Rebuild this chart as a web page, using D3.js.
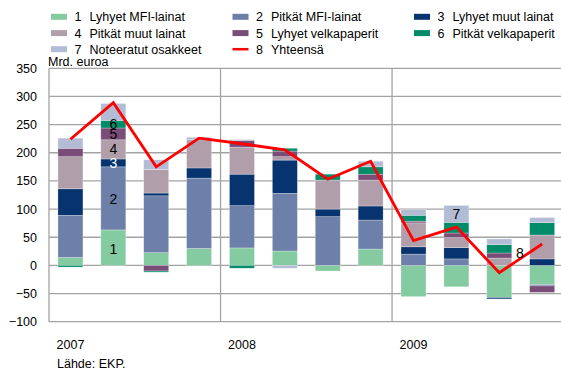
<!DOCTYPE html>
<html>
<head>
<meta charset="utf-8">
<script src="https://cdn.jsdelivr.net/npm/d3@7"></script>
<style>
  body { margin: 0; background: #fff; }
  svg { display: block; font-family: "Liberation Sans", Arial, sans-serif; }
</style>
</head>
<body>
<div id="chart"></div>
<script>
// quarters 2007Q1 .. 2009Q4
const quarters = ["2007Q1","2007Q2","2007Q3","2007Q4","2008Q1","2008Q2","2008Q3","2008Q4","2009Q1","2009Q2","2009Q3","2009Q4"];
const years = ["2007","2008","2009"];
const yTicks = [-100,-50,0,50,100,150,200,250,300,350];

const seriesNames = ["Lyhyet MFI-lainat","Pitkät MFI-lainat","Lyhyet muut lainat","Pitkät muut lainat","Lyhyet velkapaperit","Pitkät velkapaperit","Noteeratut osakkeet"];
const totalName = "Yhteensä";

const s1 = [14, 63, 22.5, 30, 31, 25.5, -10, 29, -55.5, -38, -57, -34];
const s2 = [75, 112, 101, 125, 75, 102.5, 86.5, 51.5, 20, 11.5, 0, -2.5];
const s3 = [47, 14, 5, 18, 56, 59, 13.5, 25, 13, 20, -2.5, 11.5];
const s4 = [57, 34, 42, 50, 48, 6, 51.5, 46, 42.5, 18, 13, 42.5];
const s5 = [15, 21, -10, 0, 12, 10, 0, 10.5, 3, 8, 9, -11.5];
const s6 = [-3, 13.5, -2, 0, -5, 5, 10.5, 13, 10.5, 19, 15, 22];
const s7 = [18, 30, 17, 4.5, 1.5, -5, 0, 10, 10, 30, 10, 9];
const total = [224, 289, 175, 226, 216, 205, 153, 185, 44, 68, -13, 38];

const colors = ["#84cba2", "#6d80a9", "#07346f", "#b09fab", "#7a4c78", "#008c69", "#b3bcd5"];
const lineColor = "#ff0000";

const width = 561, height = 371;
const plot = { left: 49, right: 563.6, top: 68.3, bottom: 321.7 };

const svg = d3.select("#chart").append("svg")
  .attr("width", width)
  .attr("height", height);

const x = d3.scaleBand()
  .domain(quarters)
  .range([plot.left, plot.right])
  .paddingInner(0.417)
  .paddingOuter(0.2085);

const y = d3.scaleLinear()
  .domain([-100, 350])
  .range([plot.bottom, plot.top]);

// grid
const grid = svg.append("g");
grid.selectAll("line.h")
  .data(yTicks)
  .enter().append("line")
  .attr("x1", plot.left).attr("x2", plot.right)
  .attr("y1", d => y(d)).attr("y2", d => y(d))
  .attr("stroke", "#a3a3a3").attr("stroke-width", 1.3);

const yearStarts = [0, 4, 8];
const yearX = i => i === 0 ? plot.left : x(quarters[i]) - x.step() * 0.2085;
grid.selectAll("line.v")
  .data(yearStarts)
  .enter().append("line")
  .attr("x1", yearX).attr("x2", yearX)
  .attr("y1", plot.top).attr("y2", plot.bottom)
  .attr("stroke", "#a3a3a3").attr("stroke-width", 1.3);

// y axis labels
const yAxis = svg.append("g")
  .attr("transform", `translate(${plot.left},0)`)
  .call(d3.axisLeft(y).tickValues(yTicks).tickSize(0).tickPadding(12));
yAxis.select(".domain").remove();
yAxis.selectAll("text")
  .attr("font-size", "12.5px")
  .attr("font-family", "Liberation Sans, Arial, sans-serif")
  .attr("fill", "#000");

svg.append("text")
  .attr("x", 48).attr("y", 65.5)
  .attr("font-size", "12.5px")
  .text("Mrd. euroa");

// year labels
svg.selectAll("text.year")
  .data(years)
  .enter().append("text")
  .attr("x", (d, i) => x(quarters[i * 4]) - 1.4)
  .attr("y", 348.5)
  .attr("font-size", "12.5px")
  .text(d => d);

svg.append("text")
  .attr("x", 57).attr("y", 368)
  .attr("font-size", "12.5px")
  .text("Lähde: EKP.");

// stacked bars
const all = [s1, s2, s3, s4, s5, s6, s7];
const keys = all.map((_, i) => "s" + (i + 1));
const rows = quarters.map((q, j) => {
  const r = { q };
  all.forEach((s, i) => { r[keys[i]] = s[j]; });
  return r;
});
const stacked = d3.stack()
  .keys(keys)
  .offset(d3.stackOffsetDiverging)(rows);

const layers = svg.append("g").selectAll("g")
  .data(stacked)
  .enter().append("g")
  .attr("fill", (d, i) => colors[i]);

layers.selectAll("rect")
  .data(d => d)
  .enter().append("rect")
  .attr("x", d => x(d.data.q))
  .attr("width", x.bandwidth())
  .attr("y", d => y(Math.max(d[0], d[1])))
  .attr("height", d => Math.abs(y(d[0]) - y(d[1])))
  .attr("stroke", "#ffffff")
  .attr("stroke-opacity", 0.45)
  .attr("stroke-width", 0.6);

// total line
const line = d3.line()
  .x((d, i) => x(quarters[i]) + x.bandwidth() / 2)
  .y(d => y(d));

svg.append("path")
  .datum(total)
  .attr("fill", "none")
  .attr("stroke", lineColor)
  .attr("stroke-width", 2.8)
  .attr("stroke-linejoin", "miter")
  .attr("d", line);

// in-chart number labels
const mid = (k, j) => {
  const seg = stacked[k][j];
  return y((seg[0] + seg[1]) / 2);
};
const inLabels = [
  { t: "1", k: 0, j: 1, c: "#000", dy: 6 },
  { t: "2", k: 1, j: 1, c: "#000", dy: 6 },
  { t: "3", k: 2, j: 1, c: "#fff", dy: 5 },
  { t: "4", k: 3, j: 1, c: "#000", dy: 5 },
  { t: "5", k: 4, j: 1, c: "#000", dy: 5.5 },
  { t: "6", k: 5, j: 1, c: "#000", dy: 4.5 },
  { t: "7", k: 6, j: 9, c: "#000", dy: 5 }
];
svg.selectAll("text.num")
  .data(inLabels)
  .enter().append("text")
  .attr("x", d => x(quarters[d.j]) + x.bandwidth() / 2)
  .attr("y", d => mid(d.k, d.j) + d.dy)
  .attr("text-anchor", "middle")
  .attr("font-size", "14px")
  .attr("fill", d => d.c)
  .text(d => d.t);

svg.append("text")
  .attr("x", x(quarters[10]) + x.bandwidth() / 2 + 20.5)
  .attr("y", y((total[10] + total[11]) / 2) + 0)
  .attr("text-anchor", "middle")
  .attr("font-size", "14px")
  .text("8");

// legend
const legendItems = seriesNames.map((n, i) => ({ n, i: i + 1, color: colors[i], type: "rect" }))
  .concat([{ n: totalName, i: 8, color: lineColor, type: "line" }]);
const colX = [51, 232.5, 414];
const rowY = [16.8, 33.1, 49.2];
const leg = svg.append("g").selectAll("g")
  .data(legendItems)
  .enter().append("g")
  .attr("transform", (d, k) => `translate(${colX[k % 3]},${rowY[Math.floor(k / 3)]})`);

leg.filter(d => d.type === "rect").append("rect")
  .attr("x", 0).attr("y", -3)
  .attr("width", 16).attr("height", 6)
  .attr("fill", d => d.color);
leg.filter(d => d.type === "line").append("line")
  .attr("x1", 0).attr("x2", 16)
  .attr("stroke", d => d.color)
  .attr("stroke-width", 2.5);
leg.append("text")
  .attr("x", 23.5).attr("y", 4.5)
  .attr("font-size", "12.5px")
  .text(d => d.i);
leg.append("text")
  .attr("x", 38.5).attr("y", 4.5)
  .attr("font-size", "12.5px")
  .text(d => d.n);
</script>
</body>
</html>
